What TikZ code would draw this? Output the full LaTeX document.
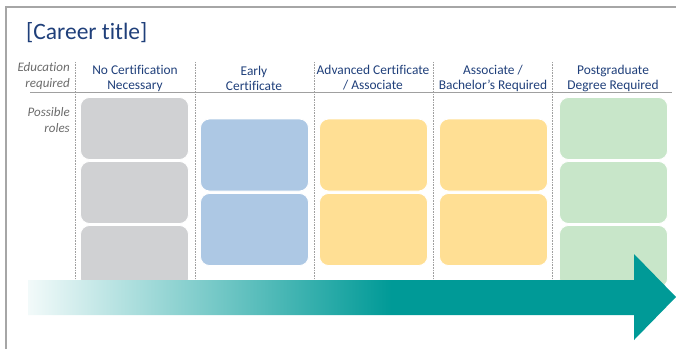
\documentclass[tikz,border=0pt]{standalone}
\usepackage{fontspec}
\setmainfont{Carlito}[Ligatures=NoCommon]
\definecolor{frame}{HTML}{A6A6A6}
\definecolor{titleblue}{HTML}{1F3F7A}
\definecolor{headblue}{HTML}{1F3F7A}
\definecolor{labgray}{HTML}{6B6B6B}
\definecolor{boxgray}{HTML}{D0D1D3}
\definecolor{boxblue}{HTML}{ADC8E4}
\definecolor{boxyellow}{HTML}{FFDF94}
\definecolor{boxgreen}{HTML}{C8E6C9}
\definecolor{teal}{HTML}{009A97}
\definecolor{divider}{HTML}{A0A0A0}
\pgfdeclarehorizontalshading{arrowshade}{100bp}{color(0bp)=(teal!5); color(25bp)=(teal!5); color(53bp)=(teal); color(100bp)=(teal)}
\tikzset{
  rolebox/.style={rounded corners=9pt, draw=white, line width=0.8pt, minimum width=108pt, inner sep=0pt},
  tallbox/.style={rolebox, minimum height=62pt},
  widebox/.style={rolebox, minimum height=72pt},
  headtxt/.style={text=headblue, font=\fontsize{13.4}{15}\selectfont, align=center, inner sep=0pt},
  sidelab/.style={text=labgray, font=\fontsize{13}{15.5}\selectfont\itshape, align=right, anchor=east, inner sep=0pt},
  divline/.style={divider, densely dotted, line width=0.6pt}
}
\begin{document}
\begin{tikzpicture}[x=1pt,y=-1pt]
\useasboundingbox (0,0) rectangle (676,349);
% frame
\draw[frame, line width=2pt] (6,349) -- (6,7) -- (676,7);
% title
\node[anchor=west, text=titleblue, font=\fontsize{23.5}{26}\selectfont, inner sep=0pt] (title) at (26,33) {[Career title]};
% header line
\draw[divider, line width=0.8pt] (30,92.5) -- (672,92.5);
% dividers
\foreach \x/\n in {75/d1,195/d2,314/d3,433/d4,552/d5}{
  \coordinate (\n t) at (\x,62);
  \coordinate (\n b) at (\x,282);
  \draw[divline] (\n t) -- (\n b);
}
% side labels
\node[sidelab] (edu) at (70,76) {Education\\required};
\node[sidelab] (pos) at (70,120) {Possible\\roles};
% headers
\node[headtxt] (h1) at (135,78) {No Certification\\Necessary};
\node[headtxt] (h2) at (254,78) {Early\\Certificate};
\node[headtxt] (h3) at (373,78) {Advanced Certificate\\/ Associate};
\node[headtxt] (h4) at (493,78) {Associate /\\Bachelor's Required};
\node[headtxt] (h5) at (613,78) {Postgraduate\\Degree Required};
% column 1
\node[tallbox, fill=boxgray] (g1) at (134.5,128.5) {};
\node[tallbox, fill=boxgray] (g2) at (134.5,192.5) {};
\node[tallbox, fill=boxgray] (g3) at (134.5,256.5) {};
% column 2
\node[widebox, fill=boxblue] (b1) at (254.5,155) {};
\node[widebox, fill=boxblue] (b2) at (254.5,229.5) {};
% column 3
\node[widebox, fill=boxyellow] (y1) at (373.5,155) {};
\node[widebox, fill=boxyellow] (y2) at (373.5,229.5) {};
% column 4
\node[widebox, fill=boxyellow] (y3) at (493.5,155) {};
\node[widebox, fill=boxyellow] (y4) at (493.5,229.5) {};
% column 5
\node[tallbox, fill=boxgreen] (e1) at (613.5,128.5) {};
\node[tallbox, fill=boxgreen] (e2) at (613.5,192.5) {};
\node[tallbox, fill=boxgreen] (e3) at (613.5,256.5) {};
% arrow
\shade[shading=arrowshade] (28,280) -- (634,280) -- (634,254) -- (676,297) -- (634,340) -- (634,315) -- (28,315) -- cycle;
\end{tikzpicture}
\end{document}
